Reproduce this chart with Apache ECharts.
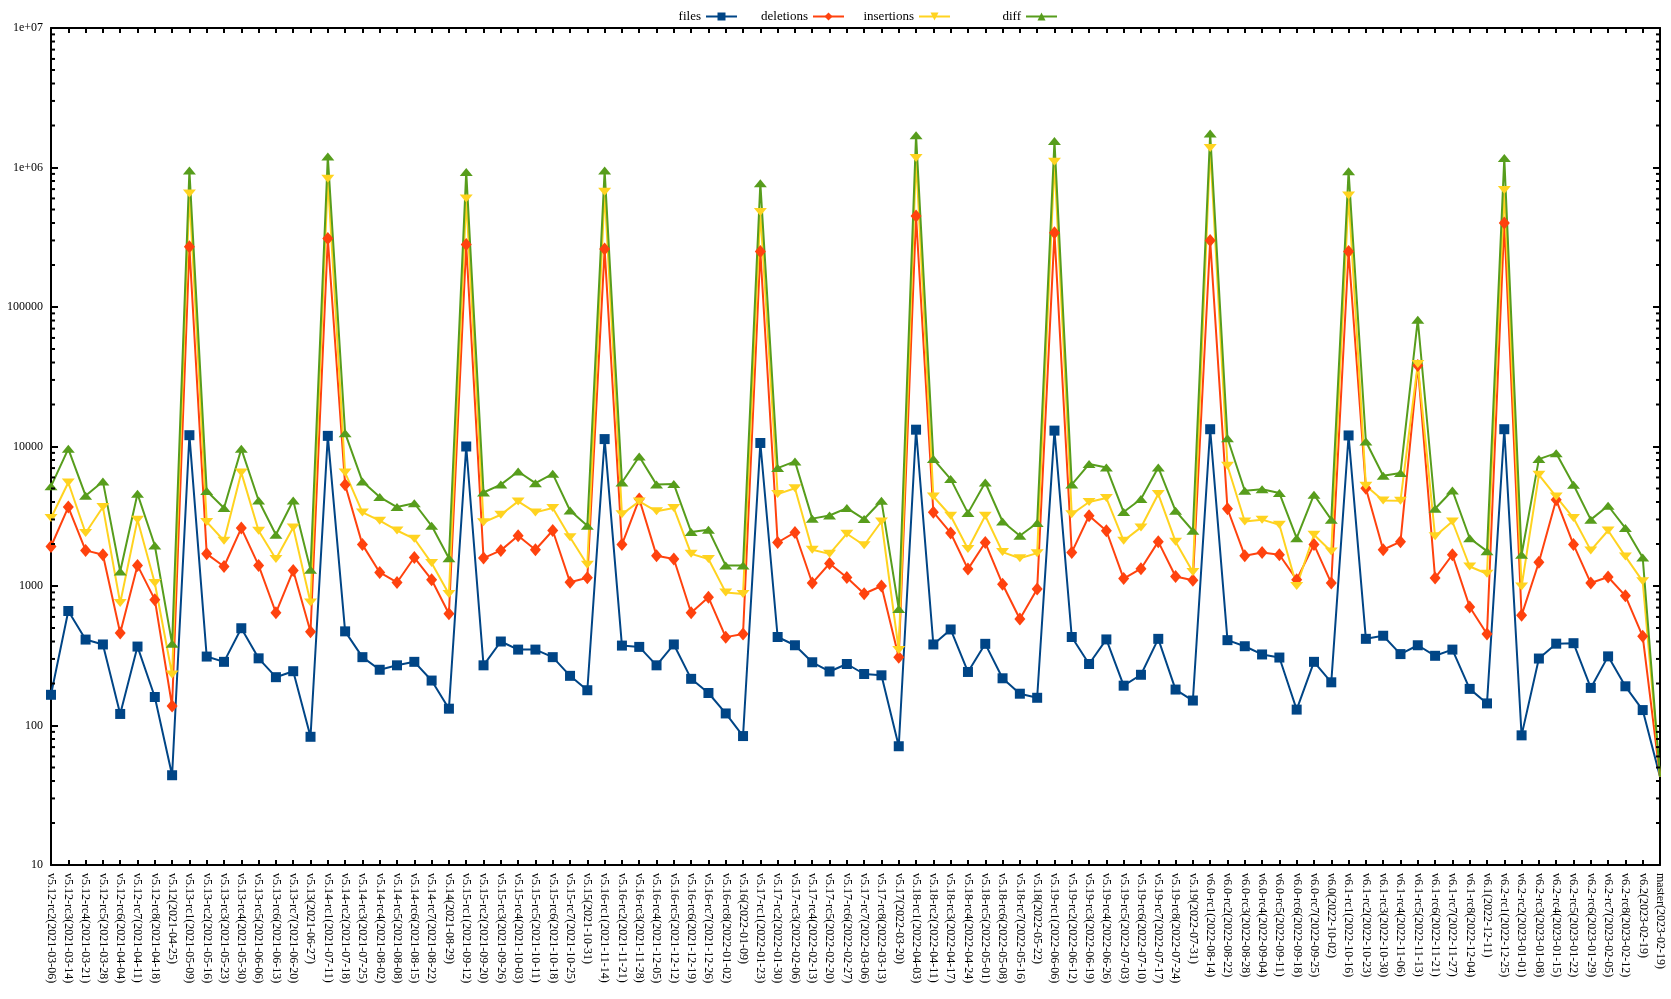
<!DOCTYPE html>
<html>
<head>
<meta charset="utf-8">
<script src="https://cdn.jsdelivr.net/npm/echarts@6/dist/echarts.min.js"></script>
<style>
html,body{margin:0;padding:0;background:#fff;}
#chart{width:1671px;height:999px;}
</style>
</head>
<body>
<div id="chart"></div>
<script>
const categories = [
"v5.12-rc2(2021-03-06)","v5.12-rc3(2021-03-14)","v5.12-rc4(2021-03-21)","v5.12-rc5(2021-03-28)","v5.12-rc6(2021-04-04)","v5.12-rc7(2021-04-11)","v5.12-rc8(2021-04-18)","v5.12(2021-04-25)",
"v5.13-rc1(2021-05-09)","v5.13-rc2(2021-05-16)","v5.13-rc3(2021-05-23)","v5.13-rc4(2021-05-30)","v5.13-rc5(2021-06-06)","v5.13-rc6(2021-06-13)","v5.13-rc7(2021-06-20)","v5.13(2021-06-27)",
"v5.14-rc1(2021-07-11)","v5.14-rc2(2021-07-18)","v5.14-rc3(2021-07-25)","v5.14-rc4(2021-08-02)","v5.14-rc5(2021-08-08)","v5.14-rc6(2021-08-15)","v5.14-rc7(2021-08-22)","v5.14(2021-08-29)",
"v5.15-rc1(2021-09-12)","v5.15-rc2(2021-09-20)","v5.15-rc3(2021-09-26)","v5.15-rc4(2021-10-03)","v5.15-rc5(2021-10-11)","v5.15-rc6(2021-10-18)","v5.15-rc7(2021-10-25)","v5.15(2021-10-31)",
"v5.16-rc1(2021-11-14)","v5.16-rc2(2021-11-21)","v5.16-rc3(2021-11-28)","v5.16-rc4(2021-12-05)","v5.16-rc5(2021-12-12)","v5.16-rc6(2021-12-19)","v5.16-rc7(2021-12-26)","v5.16-rc8(2022-01-02)","v5.16(2022-01-09)",
"v5.17-rc1(2022-01-23)","v5.17-rc2(2022-01-30)","v5.17-rc3(2022-02-06)","v5.17-rc4(2022-02-13)","v5.17-rc5(2022-02-20)","v5.17-rc6(2022-02-27)","v5.17-rc7(2022-03-06)","v5.17-rc8(2022-03-13)","v5.17(2022-03-20)",
"v5.18-rc1(2022-04-03)","v5.18-rc2(2022-04-11)","v5.18-rc3(2022-04-17)","v5.18-rc4(2022-04-24)","v5.18-rc5(2022-05-01)","v5.18-rc6(2022-05-08)","v5.18-rc7(2022-05-16)","v5.18(2022-05-22)",
"v5.19-rc1(2022-06-06)","v5.19-rc2(2022-06-12)","v5.19-rc3(2022-06-19)","v5.19-rc4(2022-06-26)","v5.19-rc5(2022-07-03)","v5.19-rc6(2022-07-10)","v5.19-rc7(2022-07-17)","v5.19-rc8(2022-07-24)","v5.19(2022-07-31)",
"v6.0-rc1(2022-08-14)","v6.0-rc2(2022-08-22)","v6.0-rc3(2022-08-28)","v6.0-rc4(2022-09-04)","v6.0-rc5(2022-09-11)","v6.0-rc6(2022-09-18)","v6.0-rc7(2022-09-25)","v6.0(2022-10-02)",
"v6.1-rc1(2022-10-16)","v6.1-rc2(2022-10-23)","v6.1-rc3(2022-10-30)","v6.1-rc4(2022-11-06)","v6.1-rc5(2022-11-13)","v6.1-rc6(2022-11-21)","v6.1-rc7(2022-11-27)","v6.1-rc8(2022-12-04)","v6.1(2022-12-11)",
"v6.2-rc1(2022-12-25)","v6.2-rc2(2023-01-01)","v6.2-rc3(2023-01-08)","v6.2-rc4(2023-01-15)","v6.2-rc5(2023-01-22)","v6.2-rc6(2023-01-29)","v6.2-rc7(2023-02-05)","v6.2-rc8(2023-02-12)","v6.2(2023-02-19)",
"master(2023-02-19)"
];

const files = [166,662,413,381,121,368,160,44, 12050,312,286,498,303,222,245,83, 11920,473,309,251,270,286,210,132,
  10000,270,400,350,350,309,227,179, 11300,374,366,270,381,216,171,122,84, 10600,431,376,284,244,276,234,229,71,
  13200,381,488,242,385,218,169,158, 13000,431,276,414,193,231,418,181,151, 13300,409,370,323,307,130,286,204,
  12000,418,440,325,376,316,350,183,144, 13300,85,302,386,389,186,313,191,129, 43];

const deletions = [1920,3680,1800,1675,461,1405,798,138, 270000,1700,1380,2600,1405,643,1290,470, 310000,5320,1980,1250,1060,1600,1110,632,
  280000,1585,1800,2290,1820,2500,1065,1145, 260000,1980,4200,1650,1560,643,830,430,453, 250000,2050,2420,1050,1450,1150,880,1000,308,
  450000,3380,2400,1322,2050,1030,580,950, 340000,1740,3190,2490,1130,1330,2080,1170,1100, 300000,3580,1650,1740,1675,1110,1980,1050,
  250000,5020,1820,2080,38000,1140,1675,708,453, 400000,616,1480,4150,1980,1050,1160,850,436, 43];

const insertions = [3070,5520,2400,3680,755,2990,1050,232, 650000,2880,2110,6500,2490,1560,2630,762, 830000,6500,3370,2940,2500,2180,1460,875,
  600000,2860,3240,4040,3370,3620,2235,1420, 670000,3270,4040,3430,3620,1700,1560,900,875, 480000,4560,5020,1820,1700,2370,1960,2900,347,
  1170000,4380,3190,1840,3190,1750,1580,1720, 1100000,3270,4000,4270,2110,2630,4560,2080,1260, 1380000,7270,2900,2990,2750,1000,2330,1770,
  630000,5240,4100,4090,39000,2270,2900,1380,1225, 690000,990,6270,4380,3070,1800,2500,1630,1080, 43];

const diff = [5180,9620,4440,5620,1270,4580,1950,385, 950000,4800,3620,9620,4100,2330,4100,1310, 1200000,12460,5620,4340,3680,3920,2700,1580,
  930000,4680,5330,6620,5460,6370,3480,2700, 950000,5520,8480,5330,5380,2440,2530,1400,1400, 770000,7000,7820,3040,3200,3620,3020,4080,685,
  1700000,8120,5840,3330,5520,2900,2290,2830, 1550000,5330,7480,7080,3390,4200,7080,3460,2490, 1750000,11460,4820,4930,4640,2200,4510,2990,
  940000,10860,6170,6450,81000,3580,4840,2200,1777, 1170000,1675,8120,8960,5320,2990,3760,2600,1600, 43];

const seriesNames = ["files","deletions","insertions","diff"];
const colors = ["#004586","#ff420e","#ffd320","#579d1c"];

const FONT = "'Liberation Serif', 'DejaVu Serif', serif";
const last = categories.length - 1;

function mkLine(name, data, color, symbol, size, rotate) {
  return {
    name: name, type: 'line', data: data,
    xAxisIndex: 0, yAxisIndex: 0,
    symbol: symbol,
    symbolSize: (v, p) => (p.dataIndex === last ? 0 : size),
    symbolRotate: rotate || 0,
    showAllSymbol: true,
    lineStyle: {color: color, width: 2},
    itemStyle: {color: color},
    emphasis: {disabled: true},
    z: 3
  };
}

const minorVals = [];
for (let e = 1; e < 7; e++) for (let m = 2; m <= 9; m++) minorVals.push(m * Math.pow(10, e));

const series = [
  mkLine("files", files, colors[0], 'rect', 10),
  mkLine("deletions", deletions, colors[1], 'diamond', [11, 13]),
  mkLine("insertions", insertions, colors[2], 'triangle', [13, 8], 180),
  mkLine("diff", diff, colors[3], 'triangle', [13, 8]),
  {
    type: 'custom', silent: true, clip: false, z: 5,
    xAxisIndex: 0, yAxisIndex: 0,
    data: minorVals.map(v => [0, v]),
    renderItem: function (params, api) {
      const v = api.value(1);
      const pL = api.coord([0, v]);
      const pR = api.coord([last, v]);
      return {type: 'group', children: [
        {type: 'line', shape: {x1: pL[0], y1: pL[1], x2: pL[0] + 4, y2: pL[1]}, style: {stroke: '#000', lineWidth: 2}},
        {type: 'line', shape: {x1: pR[0] - 4, y1: pR[1], x2: pR[0], y2: pR[1]}, style: {stroke: '#000', lineWidth: 2}}
      ]};
    }
  }
];

const legendRights = [928, 821, 715, 608];
const legends = seriesNames.map((n, i) => ({
  data: [n], right: legendRights[i], top: 5, align: 'right',
  itemWidth: 31, itemHeight: 10, selectedMode: false,
  textStyle: {fontFamily: FONT, fontSize: 13, color: '#000'}
}));

const option = {
  animation: false,
  backgroundColor: '#fff',
  legend: legends,
  grid: {left: 51, right: 11, top: 28, bottom: 134, containLabel: false},
  xAxis: [{
    type: 'category', data: categories, boundaryGap: false, position: 'bottom',
    axisLine: {lineStyle: {color: '#000', width: 2}},
    axisTick: {inside: true, length: 5, interval: 0, lineStyle: {color: '#000', width: 2}},
    axisLabel: {interval: 0, rotate: -90, margin: 8, fontFamily: FONT, fontSize: 12, color: '#000'},
    splitLine: {show: false}
  }, {
    type: 'category', data: categories, boundaryGap: false, position: 'top',
    axisLine: {lineStyle: {color: '#000', width: 2}},
    axisTick: {inside: true, length: 5, interval: 0, lineStyle: {color: '#000', width: 2}},
    axisLabel: {show: false},
    splitLine: {show: false}
  }],
  yAxis: [{
    type: 'log', logBase: 10, min: 10, max: 10000000, interval: 1, position: 'left',
    axisLine: {show: true, lineStyle: {color: '#000', width: 2}},
    axisTick: {show: true, inside: true, length: 7, lineStyle: {color: '#000', width: 2}},
    axisLabel: {
      margin: 8, fontFamily: FONT, fontSize: 12, color: '#000',
      formatter: v => (v >= 1e6 ? Number(v).toExponential(0).replace(/e\+(\d)$/, 'e+0$1') : String(Math.round(v)))
    },
    splitLine: {show: false}
  }, {
    type: 'log', logBase: 10, min: 10, max: 10000000, interval: 1, position: 'right',
    axisLine: {show: true, lineStyle: {color: '#000', width: 2}},
    axisTick: {show: true, inside: true, length: 7, lineStyle: {color: '#000', width: 2}},
    axisLabel: {show: false},
    splitLine: {show: false}
  }],
  series: series
};

const chart = echarts.init(document.getElementById('chart'), null, {renderer: 'canvas'});
chart.setOption(option);
</script>
</body>
</html>
